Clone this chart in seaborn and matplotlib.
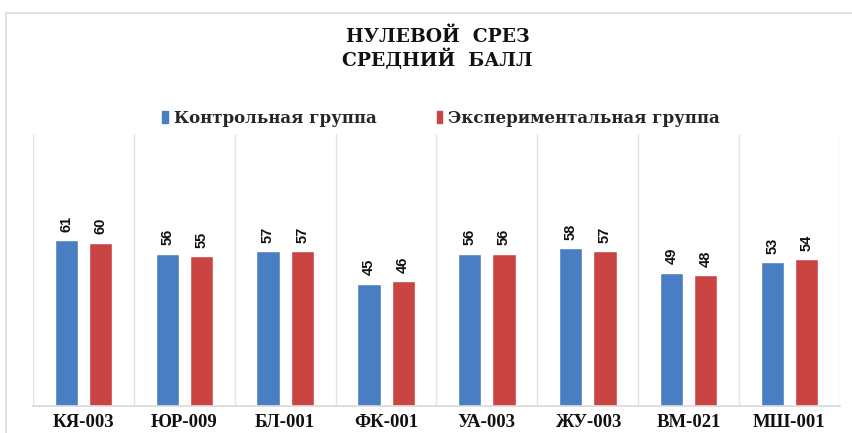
import matplotlib
matplotlib.use("Agg")
import matplotlib.pyplot as plt
import seaborn as sns
import pandas as pd
from matplotlib.patches import Rectangle

categories = ["КЯ-003", "ЮР-009", "БЛ-001", "ФК-001", "УА-003", "ЖУ-003", "ВМ-021", "МШ-001"]
control = [61, 56, 57, 45, 56, 58, 49, 53]
experimental = [60, 55, 57, 46, 56, 57, 48, 54]
series_names = ["Контрольная группа", "Экспериментальная группа"]
title_text = "НУЛЕВОЙ  СРЕЗ\nСРЕДНИЙ  БАЛЛ"

df = pd.DataFrame({
    "cat": categories * 2,
    "val": control + experimental,
    "grp": [series_names[0]] * len(categories) + [series_names[1]] * len(categories),
})

sns.set_theme(style="white")
plt.rcParams["font.family"] = ["Liberation Serif", "DejaVu Serif"]

fig = plt.figure(figsize=(8.53, 4.33), dpi=100)
ax = fig.add_axes([0.0387, 0.0624, 0.946, 0.628])

palette = {series_names[0]: "#4a7ec2", series_names[1]: "#c94442"}
sns.barplot(data=df, x="cat", y="val", hue="grp", order=categories,
            hue_order=series_names, palette=palette, width=0.68, gap=0.32,
            saturation=1, ax=ax, legend=False)

for cont in ax.containers:
    ax.bar_label(cont, rotation=90, padding=6, fontsize=10.5, fontweight="bold",
                 family=["Liberation Sans Narrow", "Liberation Sans"], color="#111111")

ax.set_ylim(0, 100)
ax.set_xlim(-0.5, len(categories) - 0.5)
ax.set_xlabel("")
ax.set_ylabel("")
ax.set_yticks([])
ax.set_xticks(range(len(categories)))
ax.set_xticklabels(categories, fontsize=13.5, fontweight="bold", color="#111111")
ax.tick_params(axis="x", length=0, pad=6)
ax.set_xticks([i - 0.5 for i in range(len(categories) + 1)], minor=True)
ax.tick_params(axis="x", which="minor", length=0)
ax.grid(False)
ax.xaxis.grid(True, which="minor", color="#e3e3e3", linewidth=1)
for s in ["top", "right", "left"]:
    ax.spines[s].set_visible(False)
ax.spines["bottom"].set_color("#d9d9d9")

fig.text(0.513, 0.887, title_text, ha="center", va="center", fontsize=13.5,
         fontweight="bold", linespacing=1.15, color="#111111",
         family=["DejaVu Serif"])

handles = [Rectangle((0, 0), 1, 1, color=palette[n]) for n in series_names]
fig.legend(handles, series_names, loc="center", bbox_to_anchor=(0.517, 0.727), ncol=2,
           frameon=False, handlelength=0.35, handleheight=0.7, handletextpad=0.35,
           columnspacing=3.6,
           prop={"size": 12, "weight": "bold", "family": "DejaVu Serif"})

fig.patches.append(Rectangle((0.007, -0.05), 1.1, 1.02, transform=fig.transFigure,
                             fill=False, edgecolor="#dcdcdc", linewidth=1.2))

fig.savefig("out.png", dpi=100, facecolor="white")
